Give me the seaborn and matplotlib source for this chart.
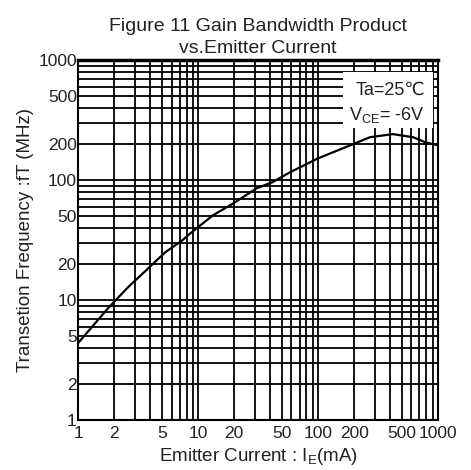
import matplotlib
matplotlib.use('Agg')
import matplotlib.pyplot as plt
import matplotlib.ticker as mticker
from matplotlib.patches import Rectangle
import seaborn as sns
import pandas as pd

# Emitter current (mA) vs transition frequency (MHz)
emitter_current = [1, 1.78, 2.6, 3.7, 5.3, 7.4, 8.6, 13.3, 19.6, 31, 41.5, 58,
                   100, 126, 185, 271, 420, 620, 780, 1000]
trans_freq = [4.4, 8.6, 12.8, 17.8, 25, 31.6, 36, 51, 64, 86, 96, 116,
              152, 167, 195, 228, 242, 228, 207, 195]

x_ticks = [1, 2, 5, 10, 20, 50, 100, 200, 500, 1000]
y_ticks = [1, 2, 5, 10, 20, 50, 100, 200, 500, 1000]

df = pd.DataFrame({'ie': emitter_current, 'ft': trans_freq})

sns.set_style('white')
plt.rcParams['font.family'] = ['Liberation Sans', 'DejaVu Sans']
plt.rcParams['mathtext.fontset'] = 'custom'
plt.rcParams['mathtext.rm'] = 'Liberation Sans'

fig = plt.figure(figsize=(4.71, 4.70), dpi=100)
ax = fig.add_axes([0.166, 0.106, 0.764, 0.766])

ax.set_xscale('log')
ax.set_yscale('log')
ax.set_xlim(1, 1000)
ax.set_ylim(1, 1000)

sns.lineplot(data=df, x='ie', y='ft', ax=ax, color='black', linewidth=1.6, zorder=4)

ax.xaxis.set_major_locator(mticker.FixedLocator(x_ticks))
ax.yaxis.set_major_locator(mticker.FixedLocator(y_ticks))
ax.xaxis.set_minor_locator(mticker.LogLocator(base=10, subs=range(2, 10)))
ax.yaxis.set_minor_locator(mticker.LogLocator(base=10, subs=range(2, 10)))
ax.xaxis.set_minor_formatter(mticker.NullFormatter())
ax.yaxis.set_minor_formatter(mticker.NullFormatter())
ax.set_xticklabels([str(v) for v in x_ticks])
ax.set_yticklabels([str(v) for v in y_ticks])
ax.tick_params(which='both', length=0, labelsize=12.5, colors='#222222')
ax.tick_params(axis='x', pad=4)
ax.tick_params(axis='y', pad=1)
ax.grid(True, which='both', color='black', linewidth=1.3)

for side in ax.spines.values():
    side.set_color('black')
    side.set_linewidth(1.5)
ax.spines['top'].set_linewidth(2.5)

ax.set_xlabel('Emitter Current : I$_{\\mathregular{E}}$(mA)', fontsize=13.5,
              color='#222222', labelpad=4)
ax.set_ylabel('Transetion Frequency :fT (MHz)', fontsize=13.5, color='#222222', labelpad=3)
ax.set_title('Figure 11 Gain Bandwidth Product\nvs.Emitter Current', fontsize=14,
             color='#222222', pad=5, linespacing=1.4)

# white panel behind the condition notes
ax.add_patch(Rectangle((0.736, 0.811), 0.25, 0.156, transform=ax.transAxes,
                       facecolor='white', edgecolor='none', zorder=3))
ax.text(0.964, 0.917, 'Ta=25\u2103', transform=ax.transAxes, ha='right', va='center',
        fontsize=13, color='#222222', zorder=5)
ax.text(0.964, 0.847, 'V$_{\\mathregular{CE}}$= -6V', transform=ax.transAxes, ha='right',
        va='center', fontsize=13, color='#222222', zorder=5)

fig.savefig('out.png', dpi=100)
